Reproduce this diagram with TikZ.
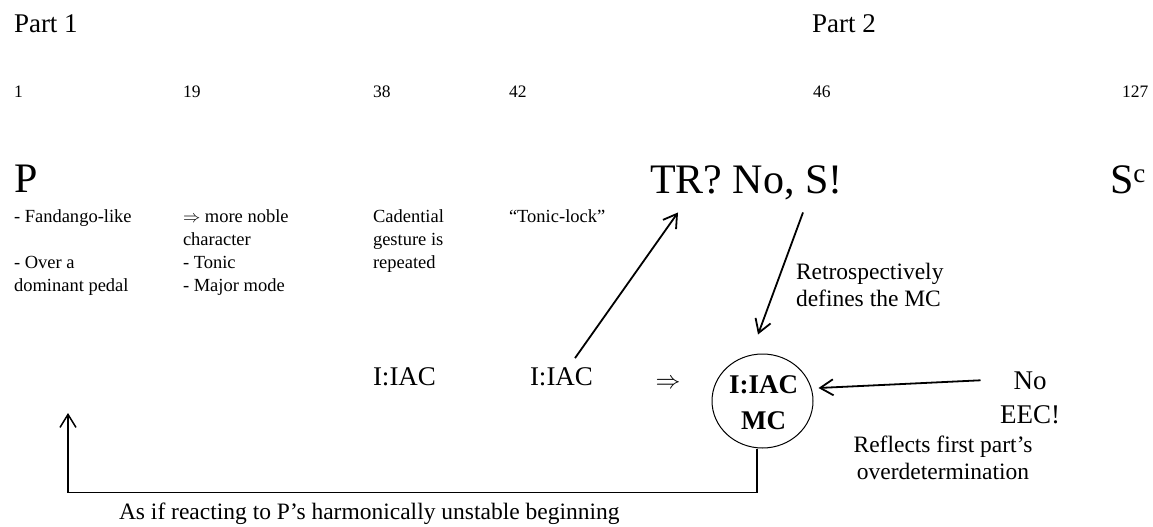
\documentclass[tikz,border=0pt]{standalone}
\usepackage{fontspec}
\setmainfont{Liberation Serif}
\usetikzlibrary{arrows.meta,shapes.geometric}
\newcommand\fsz[1]{\fontsize{#1}{#1}\selectfont}
\begin{document}
\begin{tikzpicture}[x=1pt,y=-1pt,
  txt/.style={anchor=base west, inner sep=0pt, outer sep=0pt},
  part/.style={txt, font=\fsz{27}},
  num/.style={txt, font=\fsz{17.5}},
  big/.style={txt, font=\fsz{42}},
  desc/.style={txt, font=\fsz{18.5}},
  note/.style={txt, font=\fsz{23.5}},
  cad/.style={txt, font=\fsz{27}},
  arr/.style={line width=1.8pt, -{Straight Barb[length=13pt,width=16pt,line width=1.8pt]}},
  retarr/.style={line width=1.5pt, -{Straight Barb[length=13pt,width=16pt,line width=1.5pt]}},
]
\useasboundingbox (0,0) rectangle (1153,527);

% headings
\node[part] (p1) at (14,33) {Part 1};
\node[part] (p2) at (812,33) {Part 2};

% bar numbers
\node[num] (n1) at (14,97) {1};
\node[num] (n19) at (183,97) {19};
\node[num] (n38) at (373,97) {38};
\node[num] (n42) at (509,97) {42};
\node[num] (n46) at (813,97) {46};
\node[num] (n127) at (1122,97) {127};

% big labels
\node[big] (P) at (14,192) {P};
\node[big] (TR) at (650,193) {TR? No, S!};
\node[big] (Sc) at (1110,193) {S\raisebox{11pt}{\fsz{27}c}};

% descriptions
\node[desc] (d1a) at (14,222) {- Fandango-like};
\node[desc] (d1b) at (14,268) {- Over a};
\node[desc] (d1c) at (14,291) {dominant pedal};
\node[desc] (d2a) at (183,222) {$\Rightarrow$ more noble};
\node[desc] (d2b) at (183,245) {character};
\node[desc] (d2c) at (183,268) {- Tonic};
\node[desc] (d2d) at (183,291) {- Major mode};
\node[desc] (d3a) at (373,222) {Cadential};
\node[desc] (d3b) at (373,245) {gesture is};
\node[desc] (d3c) at (373,268) {repeated};
\node[desc] (d4a) at (509,222) {“Tonic-lock”};

% notes
\node[note] (re1) at (796,279) {Retrospectively};
\node[note] (re2) at (796,306) {defines the MC};
\node[note, anchor=base] (rf1) at (943,452) {Reflects first part’s};
\node[note, anchor=base] (rf2) at (943,479) {overdetermination};
\node[note] (asif) at (119,519) {As if reacting to P’s harmonically unstable beginning};

% cadences
\node[cad] (iac1) at (373,385) {I:IAC};
\node[cad] (iac2) at (530,385) {I:IAC};
\node[inner sep=0pt, font=\fsz{30}] (impl) at (668,384) {$\Rightarrow$};

\node[ellipse, draw, line width=1pt, minimum width=101pt, minimum height=94pt, inner sep=0pt] (mc) at (762.5,401) {};
\node[cad, anchor=base, font=\bfseries\fsz{27}] (mc1) at (763.5,393) {I:IAC};
\node[cad, anchor=base, font=\bfseries\fsz{27}] (mc2) at (763.5,429) {MC};

\node[cad, anchor=base] (no) at (1030,389) {No};
\node[cad, anchor=base] (eec) at (1030,423) {EEC!};

\coordinate (ret) at (68,413);

% connectors
\draw[arr] ([xshift=13.5pt,yshift=9pt]iac2.north) -- ([xshift=28pt,yshift=-13pt]TR.south west);
\draw[arr] ([xshift=153pt,yshift=-13pt]TR.south west) -- ([xshift=-4.5pt,yshift=19pt]mc.north);
\draw[arr] ([xshift=-33pt]no.west) -- ([xshift=5pt,yshift=13pt]mc.east);
\draw[retarr] ([xshift=-5.5pt]mc.south) -- ++(0,44) -| (ret);
\end{tikzpicture}
\end{document}
